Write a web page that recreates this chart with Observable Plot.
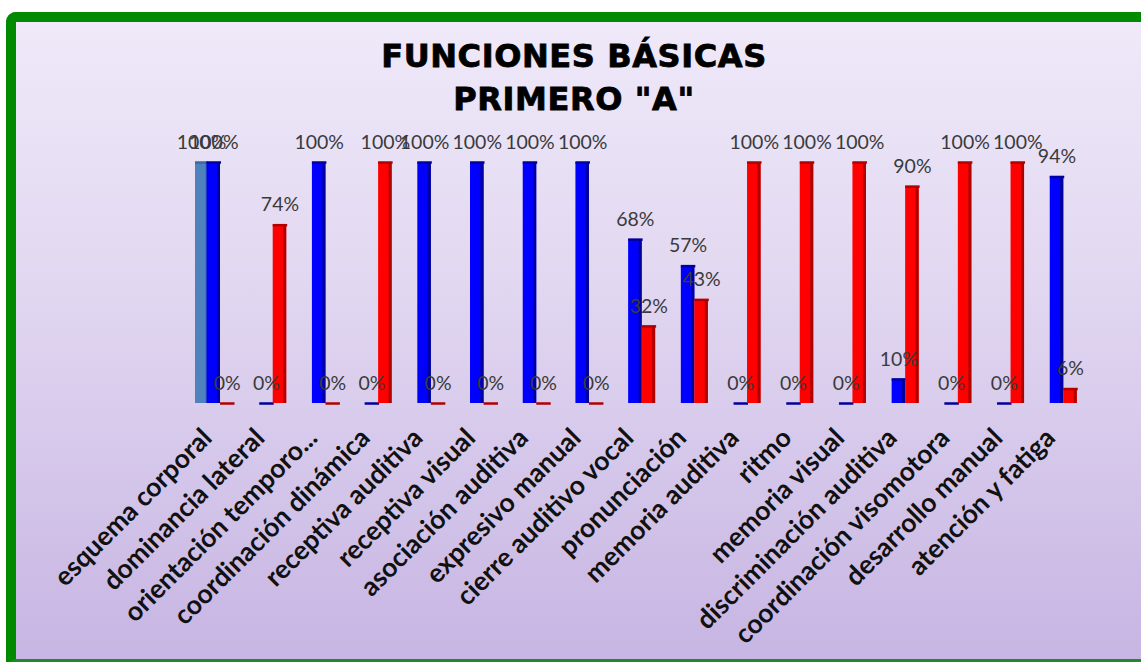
<!DOCTYPE html>
<html>
<head>
<meta charset="utf-8">
<script src="https://cdn.jsdelivr.net/npm/d3@7"></script>
<script src="https://cdn.jsdelivr.net/npm/@observablehq/plot@0.6"></script>
<style>
  html, body { margin: 0; padding: 0; background: #ffffff; width: 1141px; height: 662px; overflow: hidden; }
  #frame {
    position: absolute; left: 6px; top: 12px;
    width: 1125px; height: 637px;
    border-left: 10px solid #008a00; border-top: 10px solid #008a00; border-bottom: 4px solid #1f8a2a;
    border-top-left-radius: 10px;
    background: linear-gradient(to bottom, #efe9f9 0%, #e2d8f1 40%, #c7b5e3 100%);
    overflow: hidden;
  }
  #title {
    position: absolute; left: 0; top: 13px; width: 1116px;
    text-align: center; font-family: "DejaVu Sans", sans-serif; font-weight: bold;
    font-size: 32px; line-height: 43px; color: #000; letter-spacing: 0.6px;
    -webkit-text-stroke: 0.8px #000;
  }
  #chart { position: absolute; left: 0; top: 0; }
</style>
</head>
<body>
<div id="frame">
  <div id="chart"></div>
  <div id="title">FUNCIONES BÁSICAS<br>PRIMERO "A"</div>
</div>
<script>
const categories = ["esquema corporal","dominancia lateral","orientación temporo...","coordinación dinámica","receptiva auditiva","receptiva visual","asociación auditiva","expresivo manual","cierre auditivo vocal","pronunciación","memoria auditiva","ritmo","memoria visual","discriminación auditiva","coordinación visomotora","desarrollo manual","atención y fatiga"];
const blueValues = [1.00, 0.00, 1.00, 0.00, 1.00, 1.00, 1.00, 1.00, 0.68, 0.57, 0.00, 0.00, 0.00, 0.10, 0.00, 0.00, 0.94];
const redValues  = [0.00, 0.74, 0.00, 1.00, 0.00, 0.00, 0.00, 0.00, 0.32, 0.43, 1.00, 1.00, 1.00, 0.90, 1.00, 1.00, 0.06];
const steelValues = [1.00];

const blueData = categories.map((c, i) => ({cat: c, v: blueValues[i]}));
const redData = categories.map((c, i) => ({cat: c, v: redValues[i]}));
const steelData = steelValues.map((v, i) => ({cat: categories[i], v}));

const W = 1125, H = 637;
const mL = 177.65, mR = 51.4;
const band = (W - mL - mR) / categories.length;
const bw = 13.5;   // bar width
const side = 3;    // 3D side face width
const half = band / 2;

function bars3d(data, leftInset, rightInset, face, dark) {
  return [
    Plot.barY(data, {x: "cat", y: "v", fill: face, insetLeft: leftInset, insetRight: rightInset}),
    Plot.barY(data, {x: "cat", y: "v", fill: dark, insetLeft: leftInset + bw - side, insetRight: rightInset}),
    Plot.tickY(data, {x: "cat", y: "v", stroke: dark, strokeWidth: 2.5, insetLeft: leftInset, insetRight: rightInset - 1})
  ];
}
function labels(data, dx) {
  return Plot.text(data, {x: "cat", y: "v", text: d => Math.round(d.v * 100) + "%", dx, dy: -20,
    fill: "#3a3a3a", fontSize: 19.5, fontFamily: "Lato, 'Open Sans', sans-serif"});
}

const blueL = half - bw, blueR = half;
const redL = half, redR = half - bw;
const steelL = 1.35, steelR = band - 1.35 - 12;

const plot = Plot.plot({
  width: W, height: H,
  marginLeft: mL, marginRight: mR, marginTop: 140, marginBottom: 256,
  style: {background: "transparent", overflow: "visible"},
  x: {type: "band", domain: categories, padding: 0, round: false},
  y: {domain: [0, 1]},
  marks: [
    Plot.axisY({ticks: [], label: null}),
    Plot.axisX({tickRotate: -45, tickSize: 0, tickPadding: 6, label: null, dx: -13, dy: 24,
      fontSize: 26.5, fontWeight: "bold", fontFamily: "Lato, 'Open Sans', sans-serif", fill: "#111"}),
    ...bars3d(steelData, steelL, steelR, "#4f81bd", "#3d6a9e"),
    ...bars3d(blueData, blueL, blueR, "#0000ff", "#00009a"),
    ...bars3d(redData, redL, redR, "#ff0000", "#b00000"),
    labels(steelData, -19),
    labels(blueData, -bw / 2),
    labels(redData, bw / 2)
  ]
});
document.getElementById("chart").appendChild(plot);
</script>
</body>
</html>
